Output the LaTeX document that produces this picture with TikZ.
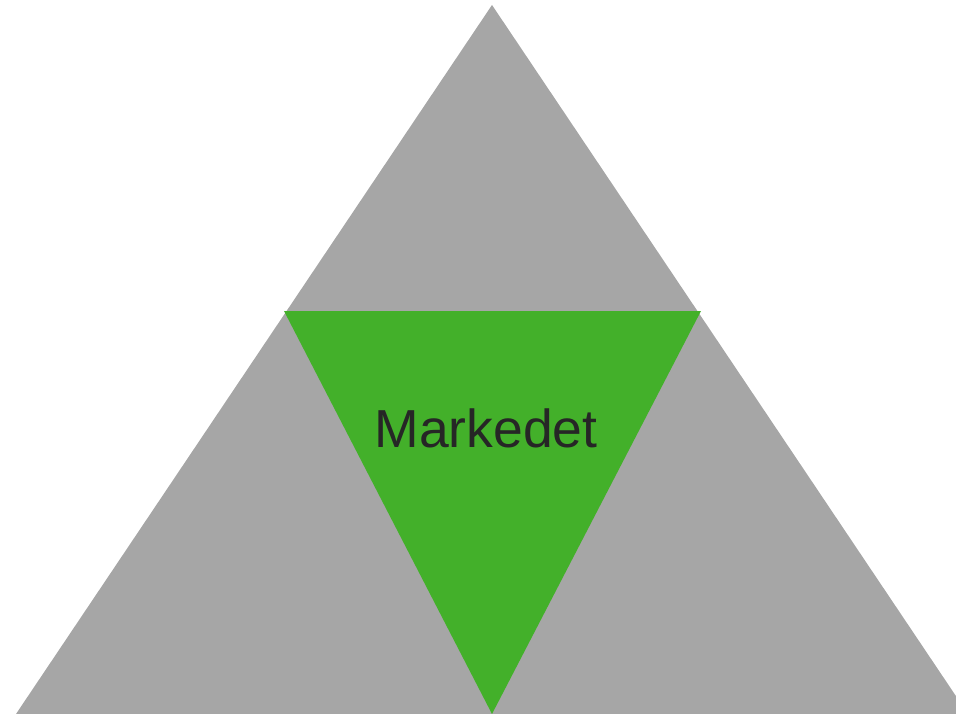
\documentclass[tikz,border=0pt]{standalone}
\usepackage{fontspec}
\setmainfont{Liberation Sans}
\definecolor{greyfill}{HTML}{A6A6A6}
\definecolor{greenfill}{HTML}{43B02A}
\definecolor{textdark}{HTML}{262626}
\begin{document}
\begin{tikzpicture}[x=1pt,y=-1pt,
  outer/.style={fill=greyfill},
  inner/.style={fill=greenfill},
  label/.style={text=textdark,font=\fontsize{53.5}{60}\selectfont,inner sep=0pt,anchor=base}]
\useasboundingbox (0,0) rectangle (956,714);
\clip (0,0) rectangle (956,714);
\coordinate (apex) at (492,5);
\coordinate (bl) at (16,714);
\coordinate (br) at (968,714);
\fill[outer] (apex) -- (bl) -- (br) -- cycle;
\coordinate (gl) at (284,311);
\coordinate (gr) at (701,311);
\coordinate (gb) at (492,714);
\fill[inner] (gl) -- (gr) -- (gb) -- cycle;
\node[label] (m) at (486,447) {Markedet};
\end{tikzpicture}
\end{document}
